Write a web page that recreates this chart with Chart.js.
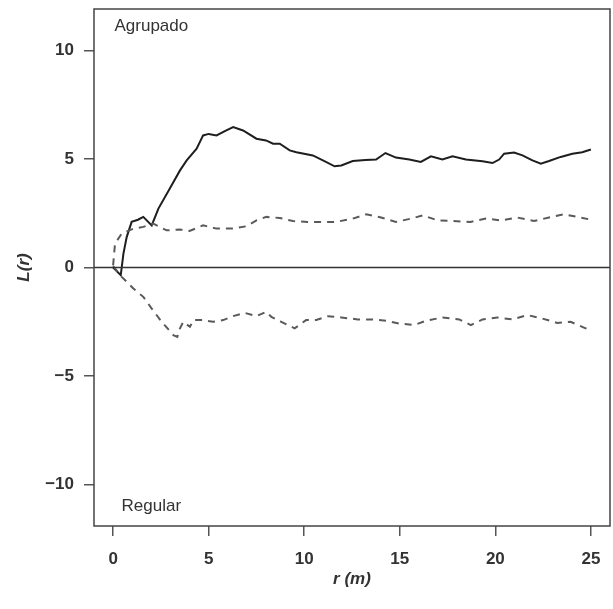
<!DOCTYPE html>
<html>
<head>
<meta charset="utf-8">
<script src="https://cdn.jsdelivr.net/npm/chart.js@4/dist/chart.umd.min.js"></script>
<style>
  html, body { margin: 0; padding: 0; background: #ffffff; }
  #wrap { width: 613px; height: 609px; position: relative; }
</style>
</head>
<body>
<div id="wrap"><canvas id="c" width="613" height="609"></canvas></div>
<script>
// Observed L(r) (solid)
const obsR = [0, 0.4, 0.54, 0.71, 0.97, 1.3, 1.58, 2.02, 2.37, 2.96, 3.5, 3.85, 4.37, 4.71, 5.0, 5.41, 5.9, 6.28, 6.8, 7.5, 8.0, 8.37, 8.72, 9.24, 9.59, 10.45, 10.98, 11.59, 11.94, 12.54, 13.2, 13.76, 14.25, 14.8, 15.5, 16.1, 16.63, 17.23, 17.76, 18.46, 19.33, 19.85, 20.2, 20.46, 20.98, 21.42, 21.94, 22.38, 22.81, 23.42, 24.03, 24.55, 25.0];
const obsL = [0, -0.35, 0.64, 1.4, 2.1, 2.2, 2.33, 1.94, 2.71, 3.63, 4.47, 4.93, 5.47, 6.08, 6.15, 6.08, 6.3, 6.46, 6.31, 5.93, 5.85, 5.70, 5.70, 5.39, 5.31, 5.16, 4.93, 4.66, 4.70, 4.90, 4.95, 4.97, 5.27, 5.06, 4.97, 4.86, 5.12, 4.97, 5.12, 4.97, 4.89, 4.81, 4.97, 5.24, 5.29, 5.16, 4.93, 4.78, 4.90, 5.09, 5.24, 5.31, 5.43];

// Upper envelope (dashed)
const hiR = [0, 0.1, 0.45, 1.06, 1.58, 2.1, 2.8, 3.5, 4.0, 4.71, 5.41, 6.28, 6.98, 7.5, 8.02, 8.72, 9.41, 10.19, 10.98, 11.67, 12.54, 13.24, 14.02, 14.8, 15.59, 16.2, 16.98, 17.8, 18.7, 19.5, 20.29, 21.15, 22.03, 22.81, 23.59, 24.46, 25];
const hiL = [0.1, 1.1, 1.56, 1.79, 1.87, 2.02, 1.71, 1.75, 1.68, 1.94, 1.79, 1.79, 1.90, 2.17, 2.33, 2.28, 2.14, 2.10, 2.10, 2.10, 2.25, 2.45, 2.30, 2.10, 2.25, 2.40, 2.17, 2.14, 2.10, 2.25, 2.17, 2.30, 2.14, 2.30, 2.45, 2.30, 2.2];

// Lower envelope (dashed)
const loR = [0, 0.45, 1.06, 1.58, 2.02, 2.54, 3.15, 3.36, 3.5, 3.67, 4.02, 4.2, 4.71, 5.23, 5.76, 6.28, 6.89, 7.5, 8.02, 8.28, 8.8, 9.5, 10.1, 10.63, 11.24, 11.94, 12.8, 13.59, 14.28, 14.98, 15.76, 16.37, 17.24, 18.11, 18.72, 19.33, 20.11, 20.9, 21.68, 22.46, 23.24, 23.94, 24.72, 25];
const loL = [0.06, -0.43, -0.97, -1.35, -1.89, -2.50, -3.11, -3.19, -2.80, -2.50, -2.73, -2.42, -2.42, -2.50, -2.42, -2.24, -2.09, -2.24, -2.04, -2.27, -2.50, -2.80, -2.42, -2.42, -2.24, -2.30, -2.39, -2.39, -2.45, -2.58, -2.65, -2.45, -2.30, -2.39, -2.65, -2.39, -2.30, -2.39, -2.19, -2.35, -2.55, -2.50, -2.80, -2.85];

const xTicks = [0, 5, 10, 15, 20, 25];
const yTicks = [-10, -5, 0, 5, 10];
const xRange = [-1, 26];
const yRange = [-11.9, 11.9];
const annotations = [
  { x: 2, y: 11.1, text: 'Agrupado' },
  { x: 2, y: -11.0, text: 'Regular' }
];
const xTitle = 'r (m)';
const yTitle = 'L(r)';

const pts = (xs, ys) => xs.map((x, i) => ({ x: x, y: ys[i] }));

const FONT = "'Liberation Sans', Arial, sans-serif";

const framePlugin = {
  id: 'frame',
  afterDatasetsDraw(chart) {
    const { ctx, chartArea: a, scales } = chart;
    ctx.save();
    ctx.strokeStyle = '#444';
    ctx.lineWidth = 1.5;
    ctx.strokeRect(a.left, a.top, a.right - a.left, a.bottom - a.top);
    ctx.fillStyle = '#333';
    ctx.font = "17px " + FONT;
    ctx.textAlign = 'center';
    ctx.textBaseline = 'middle';
    annotations.forEach(t => {
      ctx.fillText(t.text, scales.x.getPixelForValue(t.x), scales.y.getPixelForValue(t.y));
    });
    ctx.restore();
  }
};

const minus = v => String(v).replace('-', '\u2212');
const noPad = s => { s.paddingTop = 0; s.paddingBottom = 0; s.paddingLeft = 0; s.paddingRight = 0; };

new Chart(document.getElementById('c'), {
  type: 'line',
  data: {
    datasets: [
      { data: pts(xRange, [0, 0]), borderColor: '#333', borderWidth: 1.5, pointRadius: 0, tension: 0 },
      { data: pts(hiR, hiL), borderColor: '#5a5a5a', borderWidth: 2, borderDash: [7, 6], pointRadius: 0, tension: 0 },
      { data: pts(loR, loL), borderColor: '#5a5a5a', borderWidth: 2, borderDash: [7, 6], pointRadius: 0, tension: 0 },
      { data: pts(obsR, obsL), borderColor: '#1e1e1e', borderWidth: 2, pointRadius: 0, tension: 0 }
    ]
  },
  options: {
    responsive: false,
    animation: false,
    events: [],
    layout: { padding: { top: 9, right: 3, left: 0, bottom: 0 } },
    plugins: { legend: { display: false }, tooltip: { enabled: false } },
    scales: {
      x: {
        type: 'linear',
        min: xRange[0], max: xRange[1],
        afterBuildTicks: s => { s.ticks = xTicks.map(v => ({ value: v })); },
        afterFit: s => { s.height = 83; noPad(s); },
        grid: { drawOnChartArea: false, drawTicks: true, tickLength: 10, color: '#555', lineWidth: 1.5 },
        border: { display: false },
        ticks: { color: '#333', font: { family: FONT, size: 17, weight: 'bold' }, padding: 13, maxRotation: 0, callback: v => minus(v) },
        title: { display: true, text: xTitle, color: '#333', font: { family: FONT, size: 17, weight: 'bold', style: 'italic' }, padding: { top: 0, bottom: 19 } }
      },
      y: {
        type: 'linear',
        min: yRange[0], max: yRange[1],
        afterBuildTicks: s => { s.ticks = yTicks.map(v => ({ value: v })); },
        afterFit: s => { s.width = 94; noPad(s); },
        grid: { drawOnChartArea: false, drawTicks: true, tickLength: 10, color: '#555', lineWidth: 1.5 },
        border: { display: false },
        ticks: { color: '#333', font: { family: FONT, size: 17, weight: 'bold' }, padding: 10, callback: v => minus(v) },
        title: { display: true, text: yTitle, color: '#333', font: { family: FONT, size: 17, weight: 'bold', style: 'italic' }, padding: { top: 14, bottom: 0 } }
      }
    }
  },
  plugins: [framePlugin]
});
</script>
</body>
</html>
